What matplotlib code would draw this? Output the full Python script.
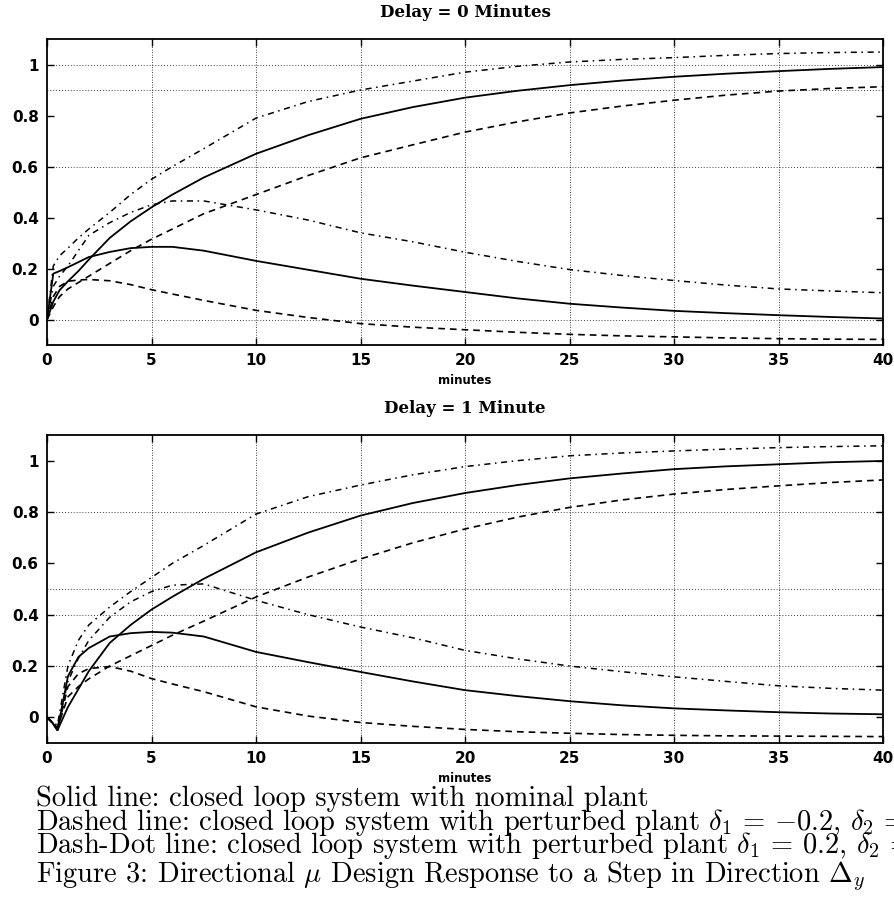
# Step responses of the directional mu design, delay 0 and 1 minute

import numpy as np
import matplotlib.pyplot as plt

plt.rcParams['mathtext.fontset'] = 'cm'

# time grids (minutes)
t_top = [0, 0.3, 0.6, 1, 1.5, 2, 3, 4, 5, 6, 7.5, 10, 12.5, 15, 17.5, 20,
         22.5, 25, 27.5, 30, 32.5, 35, 37.5, 40]
t_bot = [0, 0.25, 0.5, 1, 1.5, 2, 3, 4, 5, 6, 7.5, 10, 12.5, 15, 17.5, 20,
         22.5, 25, 27.5, 30, 32.5, 35, 37.5, 40]

# Delay = 0 minutes
top_solid_rise = [0, 0.07, 0.115, 0.15, 0.19, 0.235, 0.32, 0.385, 0.44, 0.49, 0.557, 0.65,
                  0.723, 0.787, 0.833, 0.87, 0.897, 0.919, 0.937, 0.952, 0.964, 0.974, 0.983, 0.99]
top_solid_hump = [0, 0.18, 0.19, 0.205, 0.225, 0.245, 0.265, 0.28, 0.285, 0.285, 0.27, 0.23,
                  0.195, 0.16, 0.133, 0.108, 0.083, 0.062, 0.047, 0.034, 0.025, 0.017, 0.01, 0.004]
top_dash_rise = [0, 0.05, 0.09, 0.12, 0.145, 0.17, 0.22, 0.27, 0.315, 0.355, 0.415, 0.49,
                 0.565, 0.634, 0.685, 0.735, 0.775, 0.81, 0.837, 0.86, 0.88, 0.896, 0.906, 0.913]
top_dash_hump = [0, 0.09, 0.13, 0.15, 0.155, 0.157, 0.152, 0.137, 0.117, 0.10, 0.075, 0.036,
                 0.008, -0.016, -0.03, -0.04, -0.05, -0.058, -0.064, -0.068, -0.072, -0.075, -0.077, -0.078]
top_dd_rise = [0, 0.21, 0.25, 0.28, 0.32, 0.355, 0.42, 0.49, 0.55, 0.60, 0.67, 0.79,
               0.855, 0.90, 0.935, 0.97, 0.993, 1.01, 1.02, 1.027, 1.036, 1.043, 1.047, 1.049]
top_dd_hump = [0, 0.13, 0.17, 0.21, 0.27, 0.33, 0.38, 0.42, 0.45, 0.465, 0.465, 0.43,
               0.39, 0.34, 0.305, 0.264, 0.228, 0.196, 0.173, 0.153, 0.135, 0.12, 0.112, 0.105]

# Delay = 1 minute
bot_solid_rise = [0, -0.02, -0.05, 0.04, 0.11, 0.18, 0.29, 0.36, 0.42, 0.47, 0.54, 0.643,
                  0.72, 0.786, 0.835, 0.874, 0.905, 0.931, 0.95, 0.967, 0.978, 0.986, 0.994, 0.999]
bot_solid_hump = [0, -0.02, -0.05, 0.16, 0.235, 0.27, 0.315, 0.328, 0.333, 0.33, 0.315, 0.255,
                  0.215, 0.177, 0.14, 0.106, 0.083, 0.063, 0.047, 0.035, 0.027, 0.02, 0.015, 0.012]
bot_dash_rise = [0, -0.02, -0.04, 0.08, 0.12, 0.15, 0.20, 0.24, 0.28, 0.32, 0.375, 0.469,
                 0.547, 0.617, 0.68, 0.734, 0.78, 0.818, 0.847, 0.87, 0.888, 0.902, 0.915, 0.925]
bot_dash_hump = [0, -0.02, -0.05, 0.12, 0.17, 0.19, 0.198, 0.18, 0.151, 0.13, 0.10, 0.041,
                 0.005, -0.02, -0.035, -0.047, -0.056, -0.062, -0.067, -0.07, -0.072, -0.073, -0.074, -0.075]
bot_dd_rise = [0, -0.02, -0.03, 0.20, 0.30, 0.36, 0.43, 0.49, 0.545, 0.60, 0.67, 0.792,
               0.86, 0.905, 0.945, 0.977, 1.0, 1.019, 1.03, 1.038, 1.045, 1.051, 1.055, 1.058]
bot_dd_hump = [0, -0.02, -0.04, 0.14, 0.23, 0.30, 0.39, 0.45, 0.49, 0.515, 0.52, 0.456,
               0.40, 0.352, 0.31, 0.261, 0.228, 0.20, 0.178, 0.158, 0.14, 0.123, 0.113, 0.106]

titles = ['Delay = 0 Minutes', 'Delay = 1 Minute']
xticks = [0, 5, 10, 15, 20, 25, 30, 35, 40]
yticks = [0, 0.2, 0.4, 0.6, 0.8, 1.0]
yticklabels = ['0', '0.2', '0.4', '0.6', '0.8', '1']
top_hgrid = [0, 0.6, 0.9, 1.0]
bot_hgrid = [0.2, 0.4, 0.5, 0.8]

caption = [
    'Solid line: closed loop system with nominal plant',
    r'Dashed line: closed loop system with perturbed plant $\delta_1$ = $-0.2$, $\delta_2$ = 0.2',
    r'Dash-Dot line: closed loop system with perturbed plant $\delta_1$ = 0.2, $\delta_2$ = $-0.2$',
    r'Figure 3: Directional $\mu$ Design Response to a Step in Direction $\Delta_{y}$',
]

fig = plt.figure(figsize=(8.94, 8.99), dpi=100)
ax1 = fig.add_axes([0.0526, 0.6162, 0.9351, 0.3404])
ax2 = fig.add_axes([0.0526, 0.1735, 0.9351, 0.3426])

dash = (0, (4, 3))
dashdot = (0, (4, 3, 1, 3))

panels = [
    (ax1, t_top, top_solid_rise, top_solid_hump, top_dash_rise, top_dash_hump,
     top_dd_rise, top_dd_hump, top_hgrid),
    (ax2, t_bot, bot_solid_rise, bot_solid_hump, bot_dash_rise, bot_dash_hump,
     bot_dd_rise, bot_dd_hump, bot_hgrid),
]

for i, (ax, t, sr, sh, dr, dh, ddr, ddh, hgrid) in enumerate(panels):
    ax.plot(t, sr, color='black', lw=1.3, ls='-')
    ax.plot(t, sh, color='black', lw=1.3, ls='-')
    ax.plot(t, dr, color='black', lw=1.2, ls=dash)
    ax.plot(t, dh, color='black', lw=1.2, ls=dash)
    ax.plot(t, ddr, color='black', lw=1.1, ls=dashdot)
    ax.plot(t, ddh, color='black', lw=1.1, ls=dashdot)

    for x in xticks[1:-1]:
        ax.axvline(x, color='black', lw=0.6, ls=(0, (1, 2)), zorder=0)
    for y in hgrid:
        ax.axhline(y, color='black', lw=0.6, ls=(0, (1, 2.5)), zorder=0)

    ax.set_xlim(0, 40)
    ax.set_ylim(-0.1, 1.1)
    ax.set_xticks(xticks)
    ax.set_yticks(yticks)
    ax.set_yticklabels(yticklabels)
    ax.tick_params(direction='in', length=5, width=1, top=True, right=True, pad=6)
    for lab in ax.get_xticklabels() + ax.get_yticklabels():
        lab.set_fontweight('bold')
        lab.set_fontsize(11)
    for sp in ax.spines.values():
        sp.set_linewidth(1.3)
    ax.set_title(titles[i], fontsize=12, fontweight='bold', family='DejaVu Serif', pad=16)
    ax.set_xlabel('minutes', fontsize=8.5, fontweight='bold', labelpad=4)

ys = [0.1030, 0.0768, 0.0512, 0.0189]
for y, line in zip(ys, caption):
    fig.text(0.040, y, line, family='cmr10', fontsize=20.5, va='baseline', ha='left')

fig.savefig('out.png', dpi=100)
